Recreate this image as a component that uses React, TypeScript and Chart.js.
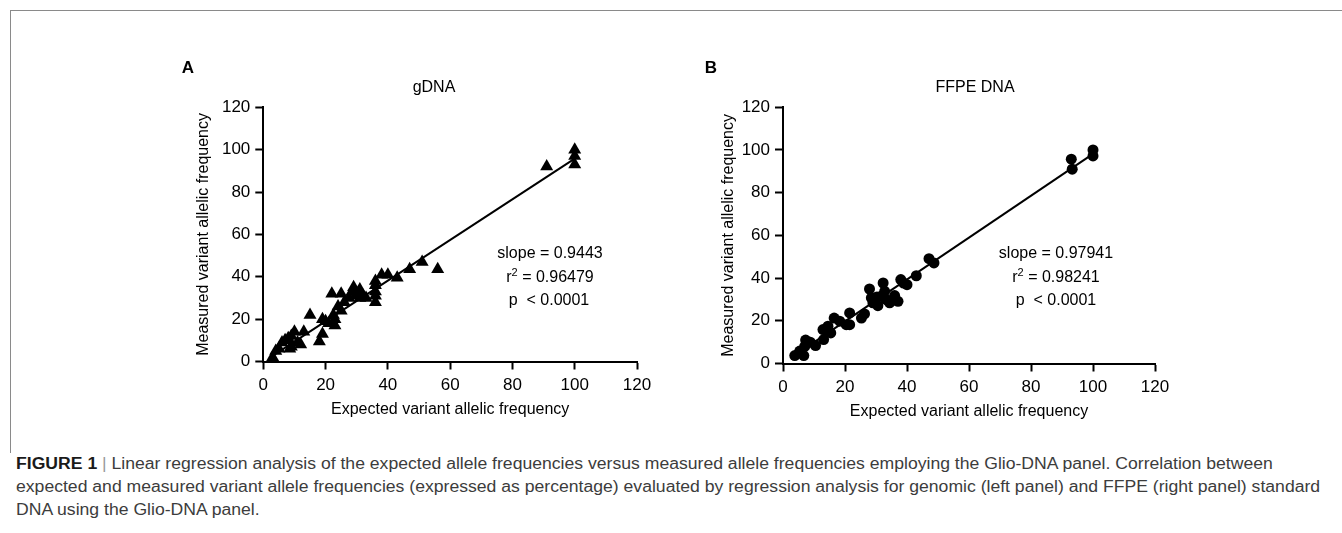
import React, { useEffect, useRef } from "react";
import { Chart, registerables } from "chart.js";

Chart.register(...registerables);

// ---- data ----
const axisTicks = [0, 20, 40, 60, 80, 100, 120];

const gdnaExpected = [3, 4, 5, 6, 7, 8, 9, 10, 9, 8.5, 11, 12, 13, 15, 18, 19, 19, 20, 21, 22, 22.5, 23, 23, 24, 25, 25, 26, 27.5, 28.5, 29, 29.5, 30.5, 31, 31, 32, 33, 36, 36, 36, 36, 36, 38, 40, 43, 47, 51, 56, 91, 100, 100, 100];
const gdnaMeasured = [2, 5, 6, 9, 10, 11, 12, 14, 7, 6, 9, 8, 14, 22, 9.5, 13, 20, 19, 18, 32, 22, 20, 17, 26, 32, 24, 28, 30, 33, 35, 31, 32, 34, 30, 31, 30, 38, 36, 33, 31, 28, 41, 41, 39.5, 43.5, 47, 43.5, 92, 100, 97, 93];
const gdnaFitX = [2.5, 100];
const gdnaFitY = [2.2, 95.8];

const ffpeExpected = [3.8, 5.4, 6.7, 7, 7.3, 8.8, 10.5, 12.9, 13.1, 14.5, 15.4, 16.5, 18.3, 20.4, 21.5, 21.5, 25.3, 26.3, 27.9, 28.5, 29, 30.3, 30.6, 32.3, 31.7, 32.8, 33.3, 34.4, 36, 37.1, 38, 38.9, 40, 43, 47.1, 48.7, 93, 93.3, 100, 100];
const ffpeMeasured = [3.7, 5.8, 3.7, 8, 11, 10, 8.4, 15.9, 11.2, 17.5, 14.3, 21.3, 19.8, 18.2, 23.7, 18.2, 21.3, 23.2, 34.9, 30.7, 28.4, 31.2, 27.1, 37.7, 31.5, 33.8, 29.9, 28.4, 31.8, 29.1, 39.3, 37.7, 36.9, 41.1, 49.1, 47.1, 95.7, 91, 100, 97.2];
const ffpeFitX = [3.5, 100];
const ffpeFitY = [3.6, 98.2];

const FONT = "'Liberation Sans', Arial, Helvetica, sans-serif";

type PanelCfg = {
  xs: number[];
  ys: number[];
  fx: number[];
  fy: number[];
  style: string;
  radius: number;
  yWidth: number;
  xHeight: number;
  padTop: number;
  padRight: number;
  yTitlePad: number;
};

function makeChart(canvas: HTMLCanvasElement, p: PanelCfg) {
  const pts = p.xs.map((v, i) => ({ x: v, y: p.ys[i] }));
  const fit = p.fx.map((v, i) => ({ x: v, y: p.fy[i] }));
  const tickFont = { family: FONT, size: 17 };
  const common = (titleText: string, titlePad: any) => ({
    type: "linear",
    min: 0,
    max: 120,
    afterBuildTicks: (s: any) => {
      s.ticks = axisTicks.map((v) => ({ value: v }));
    },
    ticks: { color: "#000", font: tickFont, padding: 5, maxRotation: 0 },
    grid: {
      display: true,
      drawOnChartArea: false,
      drawTicks: true,
      tickLength: 8,
      tickWidth: 2,
      tickColor: "#000",
    },
    border: { display: true, color: "#000", width: 2 },
    title: {
      display: true,
      text: titleText,
      color: "#000",
      font: { family: FONT, size: 16 },
      padding: titlePad,
    },
  });
  return new Chart(canvas, {
    type: "scatter",
    data: {
      datasets: [
        {
          data: pts,
          pointStyle: p.style,
          pointRadius: p.radius,
          pointHoverRadius: p.radius,
          backgroundColor: "#000",
          borderColor: "#000",
          borderWidth: 0,
          clip: false,
          order: 2,
        } as any,
        {
          type: "line",
          data: fit,
          showLine: true,
          pointRadius: 0,
          borderColor: "#000",
          borderWidth: 2,
          fill: false,
          clip: false,
          order: 1,
        } as any,
      ],
    },
    options: {
      responsive: false,
      animation: false,
      events: [],
      layout: { padding: { top: p.padTop, right: p.padRight, bottom: 0, left: 0 } },
      plugins: {
        legend: { display: false },
        tooltip: { enabled: false },
        title: { display: false },
      },
      scales: {
        x: {
          ...common("Expected variant allelic frequency", { top: 0, bottom: 1 }),
          ticks: { color: "#000", font: tickFont, padding: 6, maxRotation: 0 },
          afterFit: (s: any) => {
            s.height = p.xHeight;
          },
        },
        y: {
          ...common("Measured variant allelic frequency", { top: p.yTitlePad, bottom: 0 }),
          afterFit: (s: any) => {
            s.width = p.yWidth;
          },
        },
      },
    } as any,
  });
}

function Panel(props: { left: number; top: number; width: number; height: number; cfg: PanelCfg }) {
  const ref = useRef<HTMLCanvasElement>(null);
  useEffect(() => {
    if (!ref.current) return;
    const ch = makeChart(ref.current, props.cfg);
    return () => ch.destroy();
  }, []);
  return (
    <canvas
      ref={ref}
      width={props.width}
      height={props.height}
      style={{ position: "absolute", left: props.left, top: props.top, width: props.width, height: props.height }}
    />
  );
}

function Label(props: { x: number; y: number; size?: number; bold?: boolean; children: any }) {
  return (
    <div
      style={{
        position: "absolute",
        left: props.x,
        top: props.y,
        transform: "translate(-50%, -50%)",
        whiteSpace: "pre",
        fontFamily: FONT,
        fontSize: props.size || 16,
        fontWeight: props.bold ? 700 : 400,
        lineHeight: 1,
        color: "#000",
      }}
    >
      {props.children}
    </div>
  );
}

export default function App() {
  const cfgA: PanelCfg = {
    xs: gdnaExpected,
    ys: gdnaMeasured,
    fx: gdnaFitX,
    fy: gdnaFitY,
    style: "triangle",
    radius: 7.5,
    yWidth: 83.3,
    xHeight: 58.5,
    padTop: 57.3,
    padRight: 40,
    yTitlePad: 13.7,
  };
  const cfgB: PanelCfg = {
    xs: ffpeExpected,
    ys: ffpeMeasured,
    fx: ffpeFitX,
    fy: ffpeFitY,
    style: "circle",
    radius: 5.5,
    yWidth: 83,
    xHeight: 58.5,
    padTop: 57.3,
    padRight: 40,
    yTitlePad: 19.4,
  };
  const sup = <sup style={{ fontSize: 11, verticalAlign: "6px", lineHeight: 0 }}>2</sup>;
  return (
    <div
      style={{
        position: "absolute",
        left: 0,
        top: 0,
        width: 1342,
        height: 533,
        background: "#fff",
        overflow: "hidden",
        fontFamily: FONT,
      }}
    >
      <div style={{ position: "absolute", left: 10, top: 10, width: 1340, height: 442, borderTop: "1px solid #8a8a8a", borderLeft: "1px solid #8a8a8a" }} />
      <Panel left={180} top={50} width={497} height={370} cfg={cfgA} />
      <Panel left={700} top={50} width={495} height={372} cfg={cfgB} />

      <Label x={188} y={67} size={17} bold>A</Label>
      <Label x={711} y={67} size={17} bold>B</Label>
      <Label x={434} y={87}>gDNA</Label>
      <Label x={975} y={87}>FFPE DNA</Label>

      <Label x={550} y={253}>slope = 0.9443</Label>
      <Label x={550} y={277}>r{sup} = 0.96479</Label>
      <Label x={549} y={300}>{"p  < 0.0001"}</Label>

      <Label x={1056} y={253}>slope = 0.97941</Label>
      <Label x={1056} y={277}>r{sup} = 0.98241</Label>
      <Label x={1056} y={300}>{"p  < 0.0001"}</Label>

      <div
        style={{
          position: "absolute",
          left: 16,
          top: 451.5,
          fontFamily: FONT,
          fontSize: 16,
          lineHeight: "23px",
          color: "#3c3c3c",
          whiteSpace: "nowrap",
          transform: "scaleX(1.1)",
          transformOrigin: "0 0",
        }}
      >
        <div>
          <span style={{ fontWeight: 700, color: "#1a1a1a" }}>FIGURE 1</span>
          <span style={{ color: "#999" }}> | </span>
          Linear regression analysis of the expected allele frequencies versus measured allele frequencies employing the Glio-DNA panel. Correlation between
        </div>
        <div>
          expected and measured variant allele frequencies (expressed as percentage) evaluated by regression analysis for genomic (left panel) and FFPE (right panel) standard
        </div>
        <div>DNA using the Glio-DNA panel.</div>
      </div>
    </div>
  );
}
